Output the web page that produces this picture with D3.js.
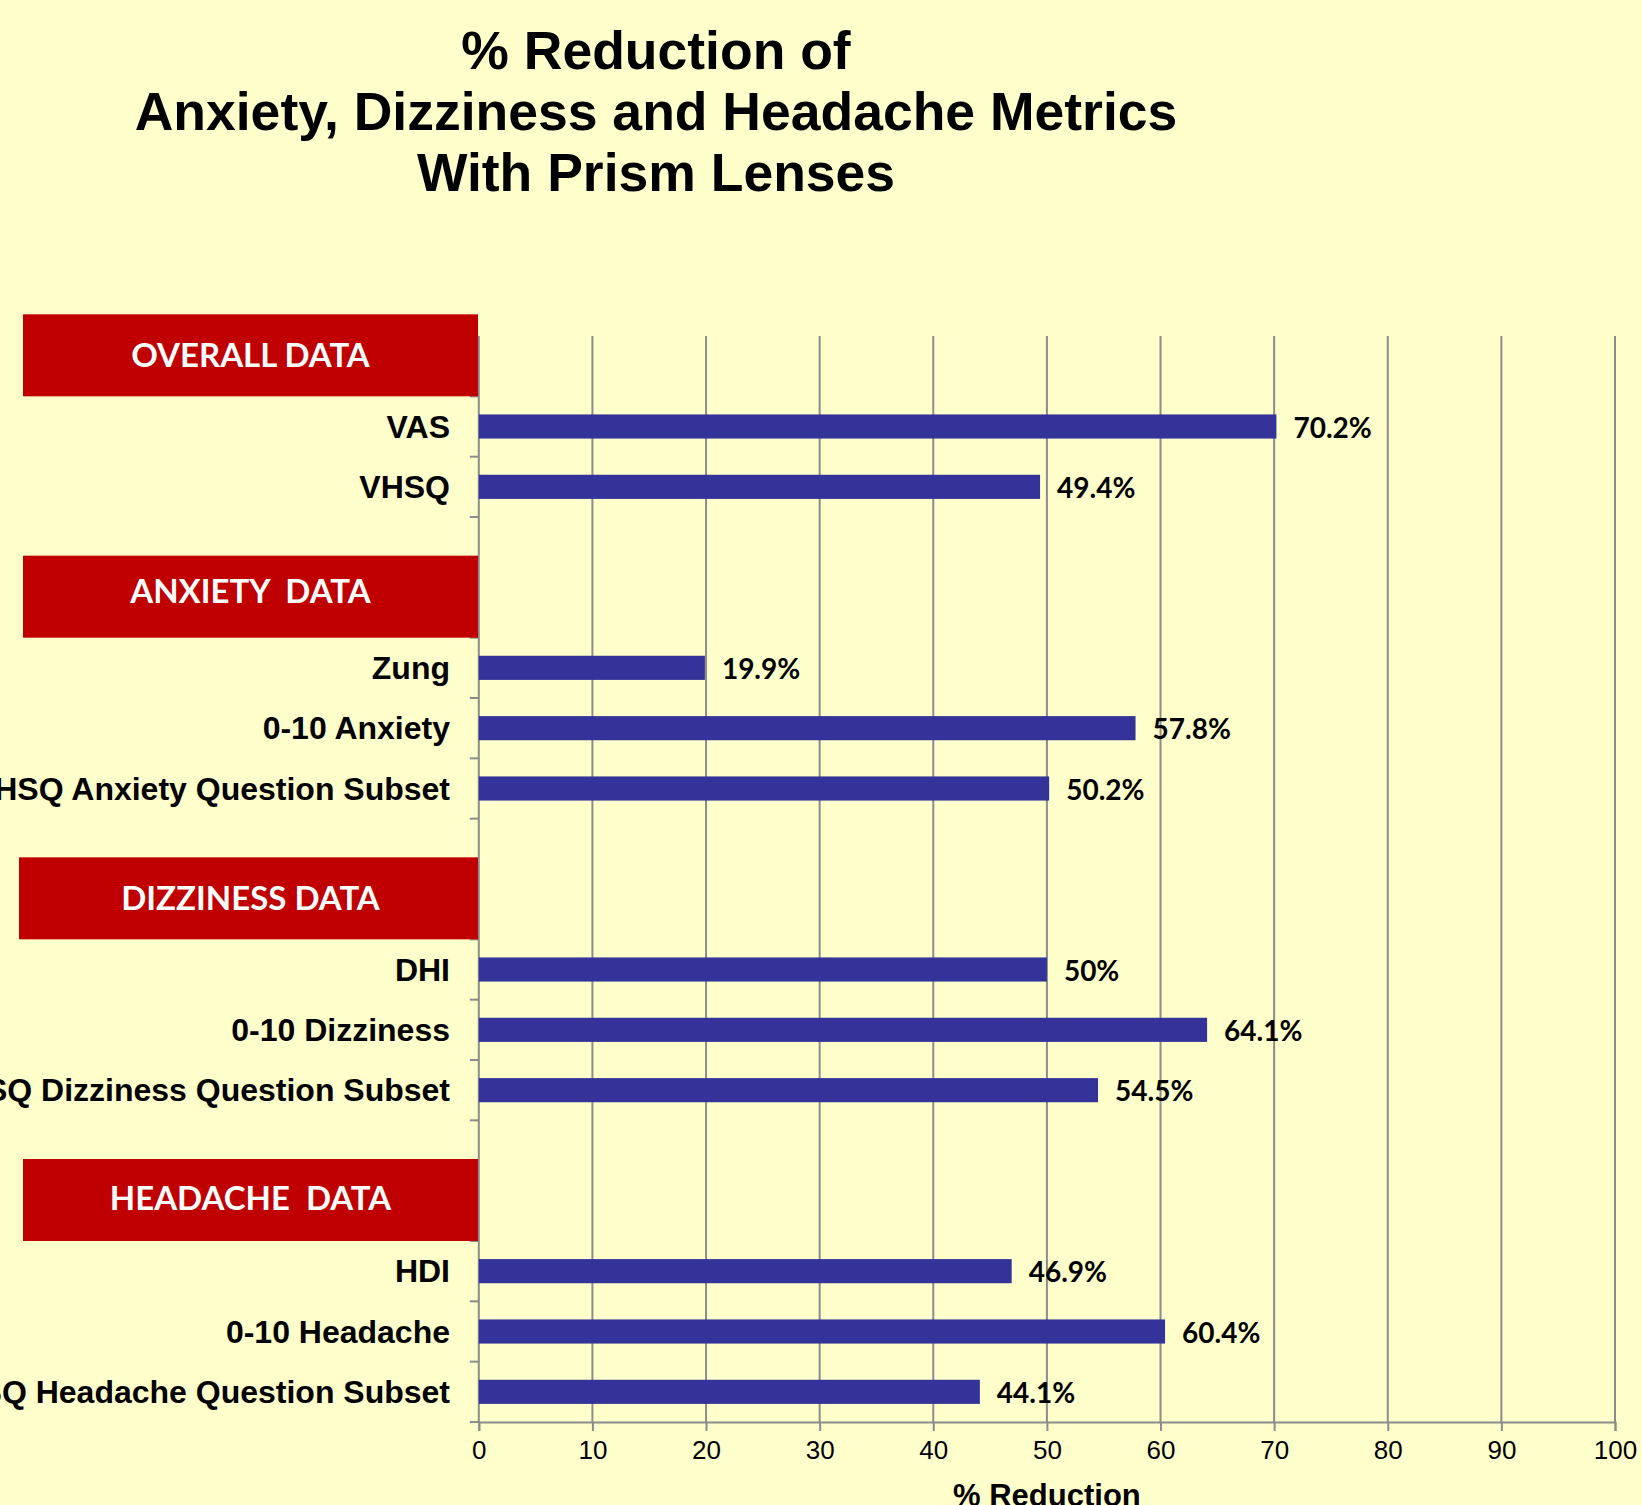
<!DOCTYPE html>
<html>
<head>
<meta charset="utf-8">
<script src="https://cdn.jsdelivr.net/npm/d3@7"></script>
<style>
  html, body { margin: 0; padding: 0; background: #FFFFCC; }
  svg { display: block; }
</style>
</head>
<body>
<svg id="chart" width="1642" height="1505"></svg>
<script>
// ---- data ----
const titleLines = ["% Reduction of", "Anxiety, Dizziness and Headache Metrics", "With Prism Lenses"];
const groupNames = ["OVERALL DATA", "ANXIETY  DATA", "DIZZINESS DATA", "HEADACHE  DATA"];
const overallCategories = ["VAS", "VHSQ"];
const overallValues = [70.2, 49.4];
const anxietyCategories = ["Zung", "0-10 Anxiety", "VHSQ Anxiety Question Subset"];
const anxietyValues = [19.9, 57.8, 50.2];
const dizzinessCategories = ["DHI", "0-10 Dizziness", "VHSQ Dizziness Question Subset"];
const dizzinessValues = [50, 64.1, 54.5];
const headacheCategories = ["HDI", "0-10 Headache", "VHSQ Headache Question Subset"];
const headacheValues = [46.9, 60.4, 44.1];
const xTicks = [0, 10, 20, 30, 40, 50, 60, 70, 80, 90, 100];
const xAxisTitle = "% Reduction";

// ---- build slots ----
const groupCats = [overallCategories, anxietyCategories, dizzinessCategories, headacheCategories];
const groupVals = [overallValues, anxietyValues, dizzinessValues, headacheValues];
const slots = [];
const bars = [];
const headers = [];
groupNames.forEach((g, gi) => {
  const hk = "hdr" + gi;
  slots.push(hk);
  headers.push({ key: hk, name: g, idx: gi });
  groupCats[gi].forEach((c, ci) => {
    const k = "cat" + gi + "_" + ci;
    slots.push(k);
    bars.push({ key: k, name: c, value: groupVals[gi][ci] });
  });
  if (gi < groupNames.length - 1) slots.push("blank" + gi);
});

// ---- layout ----
const svg = d3.select("#chart");
const plot = { left: 478.8, right: 1615, top: 336, bottom: 1422 };
const x = d3.scaleLinear().domain([0, 100]).range([plot.left, plot.right]);
const y = d3.scaleBand().domain(slots).range([plot.top, plot.bottom]).paddingInner(0.6).paddingOuter(0.3);
const slotY = d3.scaleBand().domain(slots).range([plot.top, plot.bottom]);
const step = slotY.step();

svg.append("rect").attr("width", 1642).attr("height", 1505).attr("fill", "#FFFFCC");

// title
const title = svg.append("text")
  .attr("text-anchor", "middle")
  .attr("font-family", "'Liberation Sans', Arial, sans-serif")
  .attr("font-weight", "bold")
  .attr("font-size", 53.5)
  .attr("fill", "#000");
titleLines.forEach((t, i) => {
  title.append("tspan").attr("x", 656).attr("y", 69 + i * 61).text(t);
});

// gridlines
svg.append("g").selectAll("line").data(xTicks.filter(t => t > 0)).join("line")
  .attr("x1", d => x(d)).attr("x2", d => x(d))
  .attr("y1", plot.top).attr("y2", plot.bottom)
  .attr("stroke", "#8c8c8c").attr("stroke-width", 2);

// x axis
const xAxis = d3.axisBottom(x).tickValues(xTicks).tickSize(9).tickPadding(10).tickFormat(d3.format("d"));
const gx = svg.append("g").attr("transform", `translate(0,${plot.bottom})`).call(xAxis);
gx.select(".domain").attr("stroke", "#8c8c8c").attr("stroke-width", 2);
gx.selectAll(".tick line").attr("stroke", "#8c8c8c").attr("stroke-width", 2);
gx.selectAll(".tick text")
  .attr("font-family", "'Liberation Sans', Arial, sans-serif")
  .attr("font-size", 26).attr("fill", "#000");

// y axis (line + ticks at slot boundaries)
const boundaries = slots.map(s => slotY(s) + step);
svg.append("line")
  .attr("x1", plot.left).attr("x2", plot.left)
  .attr("y1", plot.top).attr("y2", plot.bottom)
  .attr("stroke", "#8c8c8c").attr("stroke-width", 2);
svg.append("g").selectAll("line").data(boundaries).join("line")
  .attr("x1", plot.left - 9).attr("x2", plot.left)
  .attr("y1", d => d).attr("y2", d => d)
  .attr("stroke", "#8c8c8c").attr("stroke-width", 2);

// bars
svg.append("g").selectAll("rect").data(bars).join("rect")
  .attr("x", x(0))
  .attr("y", d => y(d.key))
  .attr("width", d => x(d.value) - x(0))
  .attr("height", y.bandwidth())
  .attr("fill", "#333399");

// value labels
svg.append("g").selectAll("text").data(bars).join("text")
  .attr("x", d => x(d.value) + 17)
  .attr("y", d => y(d.key) + y.bandwidth() / 2 + 11)
  .attr("font-family", "Lato, 'Open Sans', sans-serif")
  .attr("font-weight", "bold")
  .attr("font-size", 28)
  .attr("fill", "#000")
  .text(d => `${d.value}%`);

// category labels
svg.append("g").selectAll("text").data(bars).join("text")
  .attr("x", 450)
  .attr("y", d => y(d.key) + y.bandwidth() / 2 + 11)
  .attr("text-anchor", "end")
  .attr("font-family", "'Liberation Sans', Arial, sans-serif")
  .attr("font-weight", "bold")
  .attr("font-size", 32)
  .attr("fill", "#000")
  .text(d => d.name);

// group header boxes
const hdrH = 82;
const hg = svg.append("g").selectAll("g").data(headers).join("g")
  .attr("transform", d => `translate(0,${slotY(d.key) + step - hdrH})`);
hg.append("rect")
  .attr("x", d => d.idx === 2 ? 19 : 23).attr("y", 0)
  .attr("width", d => 478 - (d.idx === 2 ? 19 : 23)).attr("height", hdrH)
  .attr("fill", "#C00000");
hg.append("text")
  .attr("x", 250.5)
  .attr("y", d => hdrH / 2 + 12 - (d.idx === 1 ? 6 : 0) - (d.idx === 3 ? 2 : 0))
  .attr("text-anchor", "middle")
  .attr("font-family", "Lato, 'Open Sans', sans-serif")
  .attr("font-weight", "bold")
  .attr("font-size", 33)
  .attr("fill", "#fff")
  .style("white-space", "pre")
  .text(d => d.name);

// x axis title
svg.append("text")
  .attr("x", (plot.left + plot.right) / 2)
  .attr("y", 1506)
  .attr("text-anchor", "middle")
  .attr("font-family", "'Liberation Sans', Arial, sans-serif")
  .attr("font-weight", "bold")
  .attr("font-size", 31)
  .attr("fill", "#000")
  .text(xAxisTitle);
</script>
</body>
</html>
